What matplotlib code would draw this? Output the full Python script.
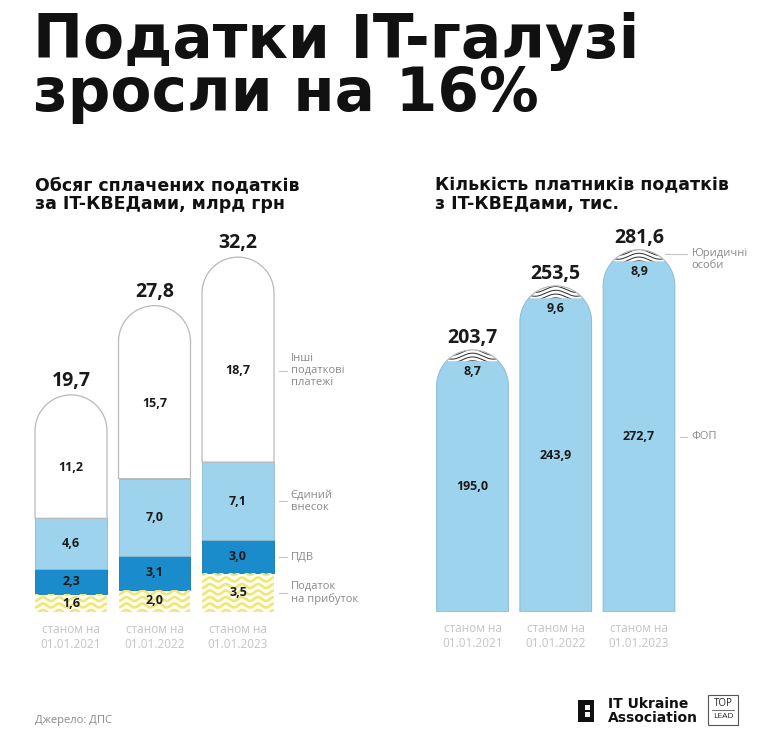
import numpy as np
import matplotlib
matplotlib.use('Agg')
import matplotlib.pyplot as plt
from matplotlib.patches import Polygon, Rectangle

# data
years = ['01.01.2021', '01.01.2022', '01.01.2023']
profit_tax = [1.6, 2.0, 3.5]
vat = [2.3, 3.1, 3.0]
esv = [4.6, 7.0, 7.1]
other = [11.2, 15.7, 18.7]
tax_total = [19.7, 27.8, 32.2]

fop = [195.0, 243.9, 272.7]
legal = [8.7, 9.6, 8.9]
payers_total = [203.7, 253.5, 281.6]

def fmt(v):
    return '{:.1f}'.format(v).replace('.', ',')

W, H = 764, 738
fig = plt.figure(figsize=(W/100, H/100), dpi=100)
fig.patch.set_facecolor('white')

LIGHT = '#9dd3ec'
DARK = '#1b8ccb'
YELLOW = '#efe57a'
EDGE = '#b9b9b9'
GREY = '#8a8a8a'
LGREY = '#c4c4c4'
FONT = 'Open Sans'

def px_axes(left, top, right, bottom):
    ax = fig.add_axes([left/W, 1 - bottom/H, (right-left)/W, (bottom-top)/H])
    ax.set_axis_off()
    return ax

def capsule(x, w, y0, top, ry, n=80):
    t = np.linspace(0, np.pi, n)
    xs = x + w/2*np.cos(t)
    ys = top - ry + ry*np.sin(t)
    return [(x - w/2, y0), (x + w/2, y0)] + list(zip(xs, ys))

def cap_segment(x, w, y0, top, ry, n=80):
    s0 = (y0 - (top - ry))/ry
    t0 = np.arcsin(np.clip(s0, -1, 1))
    t = np.linspace(t0, np.pi - t0, n)
    return list(zip(x + w/2*np.cos(t), top - ry + ry*np.sin(t)))

def waves(ax, x, w, y0, y1, period, amp, step, color, lw, clip, phase=0.0):
    xs = np.linspace(x - w/2, x + w/2, 300)
    for yl in np.arange(y0 - step, y1 + step, step):
        ln, = ax.plot(xs, yl + amp*np.sin(2*np.pi*(xs - x)/period + phase),
                      color=color, lw=lw, solid_capstyle='butt', zorder=3)
        ln.set_clip_path(clip)

bw = 0.862
xpos = np.arange(3)

# ---------------- left panel: tax volume
axl = px_axes(29.25, 612 - 36*11.02, 279.75, 612)
axl.set_xlim(-0.5, 2.5)
axl.set_ylim(0, 36)
pxx = 250.5/3
pxy = 11.02
ry_l = (bw/2)*pxx/pxy

for i in range(3):
    x = xpos[i]
    b1 = profit_tax[i]
    b2 = b1 + vat[i]
    b3 = b2 + esv[i]
    # yellow wavy segment
    r = Rectangle((x - bw/2, 0), bw, b1, facecolor='#fffdec', edgecolor='none', zorder=2)
    axl.add_patch(r)
    waves(axl, x, bw, 0, b1, 16/pxx, 2.0/pxy, 6.5/pxy, YELLOW, 1.8, r)
    axl.add_patch(Rectangle((x - bw/2, b1), bw, vat[i], facecolor=DARK,
                            edgecolor='#1577ad', lw=0.6, zorder=2))
    axl.add_patch(Rectangle((x - bw/2, b2), bw, esv[i], facecolor=LIGHT,
                            edgecolor='#8cbad2', lw=0.6, zorder=2))
    axl.add_patch(Polygon(capsule(x, bw, b3, tax_total[i], ry_l), closed=True,
                          facecolor='white', edgecolor=EDGE, lw=0.9, zorder=2))
    # labels
    axl.text(x, b1/2, fmt(profit_tax[i]), ha='center', va='center', fontsize=9,
             fontweight='bold', family=FONT, color='#1a1a1a', zorder=5)
    axl.text(x, (b1 + b2)/2, fmt(vat[i]), ha='center', va='center', fontsize=9,
             fontweight='bold', family=FONT, color='#1a1a1a', zorder=5)
    axl.text(x, (b2 + b3)/2, fmt(esv[i]), ha='center', va='center', fontsize=9,
             fontweight='bold', family=FONT, color='#1a1a1a', zorder=5)
    axl.text(x, (b3 + tax_total[i])/2 - 1.0, fmt(other[i]), ha='center', va='center',
             fontsize=9, fontweight='bold', family=FONT, color='#1a1a1a', zorder=5)
    axl.text(x, tax_total[i] + 14/pxy, fmt(tax_total[i]), ha='center', va='center',
             fontsize=14, fontweight='bold', family=FONT, color='#1a1a1a')
    axl.text(x, -1.0, 'станом на\n' + years[i], ha='center', va='top', fontsize=8.5,
             family=FONT, color=LGREY, linespacing=1.15)

# legend for left panel (next to last bar)
b1 = profit_tax[2]; b2 = b1 + vat[2]; b3 = b2 + esv[2]
leg_l = [((b3 + tax_total[2])/2 - 1.0, 'Інші\nподаткові\nплатежі'),
         ((b2 + b3)/2, 'Єдиний\nвнесок'),
         ((b1 + b2)/2, 'ПДВ'),
         (b1/2, 'Податок\nна прибуток')]
for yv, txt in leg_l:
    axl.plot([2 + bw/2 + 0.06, 2 + bw/2 + 0.15], [yv, yv], color=LGREY, lw=0.8,
             clip_on=False)
    axl.text(2 + bw/2 + 0.2, yv, txt, ha='left', va='center', fontsize=8,
             family=FONT, color=GREY, linespacing=1.1, clip_on=False)

# ---------------- right panel: taxpayers
axr = px_axes(430.9, 612 - 300*1.286, 680.6, 612)
axr.set_xlim(-0.5, 2.5)
axr.set_ylim(0, 300)
pxx_r = 249.7/3
pxy_r = 1.286
ry_r = (bw/2)*pxx_r/pxy_r

for i in range(3):
    x = xpos[i]
    axr.add_patch(Polygon(capsule(x, bw, 0, payers_total[i], ry_r), closed=True,
                          facecolor=LIGHT, edgecolor='#8cbad2', lw=0.7, zorder=2))
    seg = Polygon(cap_segment(x, bw, fop[i], payers_total[i], ry_r), closed=True,
                  facecolor='white', edgecolor='none', zorder=2.5)
    axr.add_patch(seg)
    waves(axr, x, bw, fop[i] + 1, payers_total[i] + 3, 0.5, 3.0/pxy_r, 3.8/pxy_r,
          '#2a2a2a', 0.7, seg, phase=np.pi/2)
    axr.add_patch(Polygon(cap_segment(x, bw, fop[i], payers_total[i], ry_r), closed=False,
                          facecolor='none', edgecolor=EDGE, lw=0.7, zorder=4))
    axr.text(x, fop[i] - 8, fmt(legal[i]), ha='center', va='center', fontsize=9,
             fontweight='bold', family=FONT, color='#1a1a1a', zorder=5)
    axr.text(x, fop[i]/2, fmt(fop[i]), ha='center', va='center', fontsize=9,
             fontweight='bold', family=FONT, color='#1a1a1a', zorder=5)
    axr.text(x, payers_total[i] + 12/pxy_r, fmt(payers_total[i]), ha='center',
             va='center', fontsize=14, fontweight='bold', family=FONT, color='#1a1a1a')
    axr.text(x, -8, 'станом на\n' + years[i], ha='center', va='top', fontsize=8.5,
             family=FONT, color=LGREY, linespacing=1.15)

leg_r = [((fop[2] + payers_total[2])/2 + 1, 'Юридичні\nособи'),
         (fop[2]/2, 'ФОП')]
for k, (yv, txt) in enumerate(leg_r):
    axr.plot([2 + bw/2 - (0.12 if k == 0 else -0.06), 2 + bw/2 + 0.15], [yv, yv],
             color=LGREY, lw=0.8, clip_on=False)
    axr.text(2 + bw/2 + 0.2, yv + (5 if k == 0 else 0), txt, ha='left',
             va='top' if k == 0 else 'center',
             fontsize=8, family=FONT, color=GREY, linespacing=1.1, clip_on=False)

# ---------------- titles
fig.text(33/W, 1 - 12/H, 'Податки IT-галузі\nзросли на 16%', ha='left', va='top',
         fontsize=43, fontweight='heavy', family='DejaVu Sans', color='#111111',
         linespacing=0.88)
fig.text(35/W, 1 - 176/H, 'Обсяг сплачених податків\nза IT-КВЕДами, млрд грн',
         ha='left', va='top', fontsize=12.5, fontweight='bold', family='DejaVu Sans',
         color='#111111', linespacing=1.05)
fig.text(435/W, 1 - 176/H, 'Кількість платників податків\nз IT-КВЕДами, тис.',
         ha='left', va='top', fontsize=12.5, fontweight='bold', family='DejaVu Sans',
         color='#111111', linespacing=1.05)

# ---------------- footer
fig.text(35/W, 1 - 721/H, 'Джерело: ДПС', ha='left', va='center', fontsize=8,
         family=FONT, color=GREY)
axlogo = px_axes(570, 690, 760, 730)
axlogo.set_xlim(570, 760)
axlogo.set_ylim(730, 690)
axlogo.add_patch(Rectangle((578, 700), 16, 22, facecolor='#111111'))
axlogo.add_patch(Rectangle((585, 705), 5, 5, facecolor='white'))
axlogo.add_patch(Rectangle((585, 712), 5, 5, facecolor='white'))
axlogo.text(608, 711, 'IT Ukraine\nAssociation', ha='left', va='center', fontsize=10,
            fontweight='bold', family='DejaVu Sans', color='#111111', linespacing=0.95)
axlogo.add_patch(Rectangle((708, 695), 30, 30, facecolor='white', edgecolor='#555555',
                           lw=0.8))
axlogo.plot([712, 734], [710, 710], color='#555555', lw=0.6)
axlogo.text(723, 703, 'TOP', ha='center', va='center', fontsize=7, family=FONT,
            color='#222222')
axlogo.text(723, 717, 'LEAD', ha='center', va='center', fontsize=6, family=FONT,
            color='#222222')

fig.savefig('out.png', dpi=100)
